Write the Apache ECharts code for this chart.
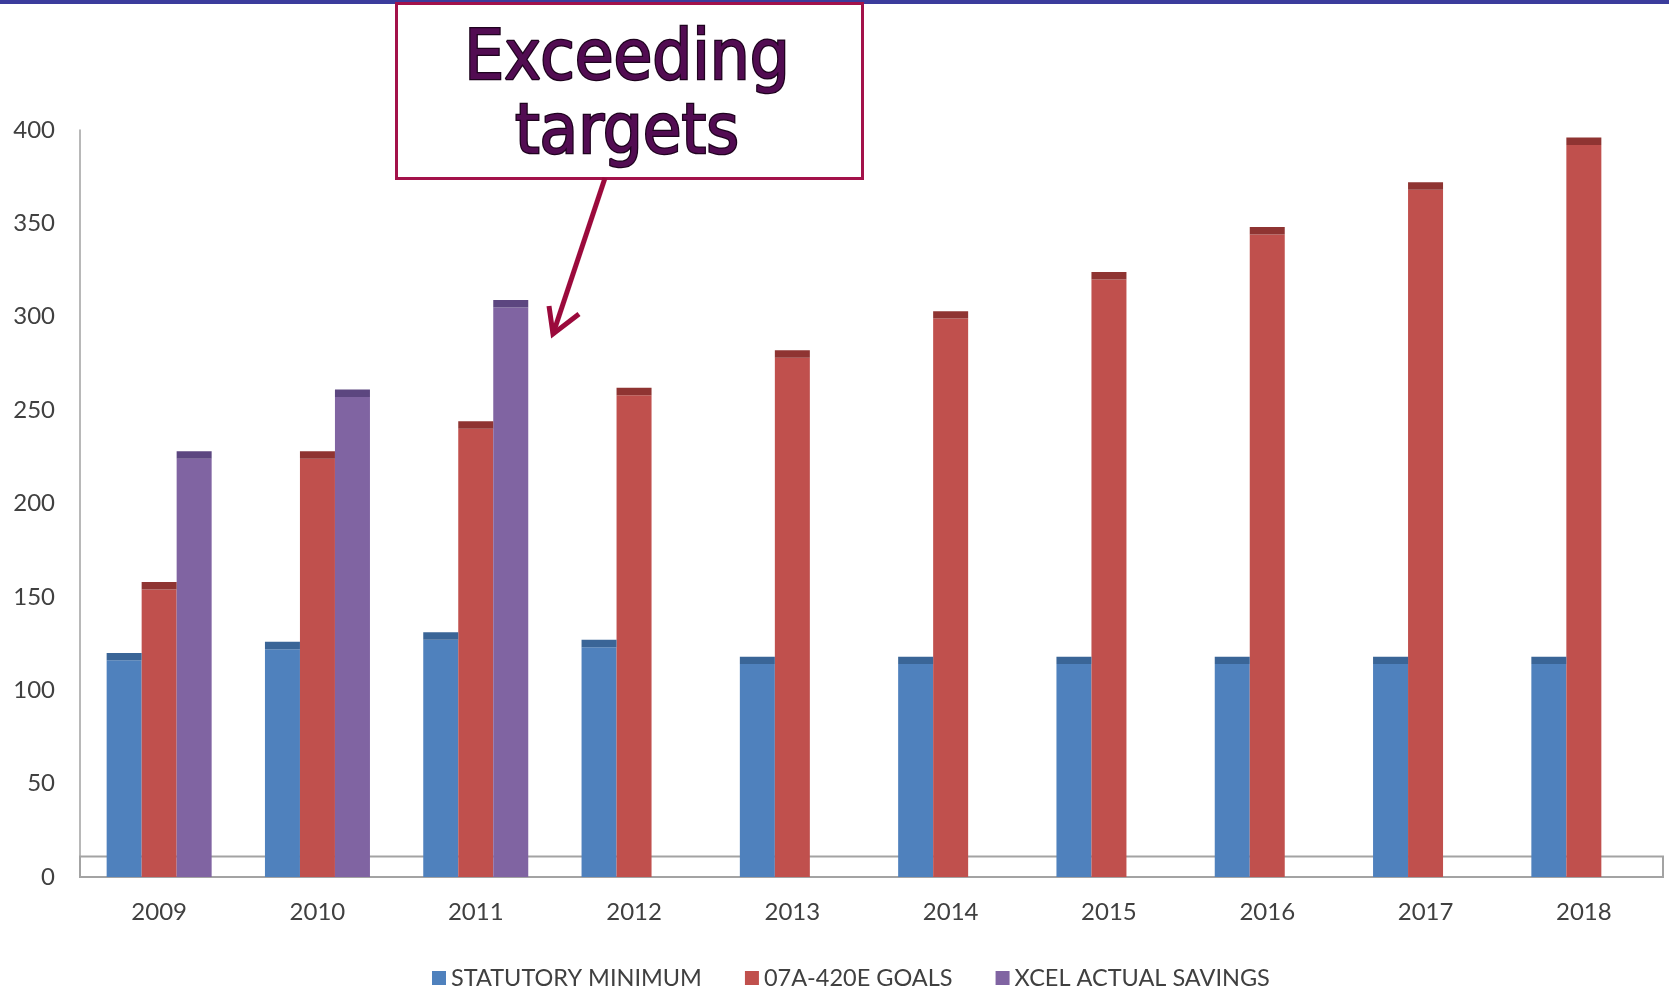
<!DOCTYPE html>
<html>
<head>
<meta charset="utf-8">
<script src="https://cdn.jsdelivr.net/npm/echarts@6/dist/echarts.min.js"></script>
<style>
  html, body { margin: 0; padding: 0; background: #fff; }
  #box { width: 1669px; height: 991px; }
</style>
</head>
<body>
<div id="box"></div>
<script>
// values
const years = ['2009','2010','2011','2012','2013','2014','2015','2016','2017','2018'];
const statutoryMinimum = [120,126,131,127,118,118,118,118,118,118];
const goals = [158,228,244,262,282,303,324,348,372,396];
const actualSavings = [228,261,309,null,null,null,null,null,null,null];
const yTicks = [0,50,100,150,200,250,300,350,400];

// dark top of each pseudo-3d bar, in axis units
const capHeight = 4;

function base(arr){ return arr.map(v => v == null ? null : v - capHeight); }
function cap(arr){ return arr.map(v => v == null ? null : capHeight); }

window.addEventListener('load', function () {
    let box = document.getElementById('box');
    let mychart = echarts.init(box);

    let font = 'Lato';
    let barW = 35;

    function barSeries(name, data, stack, color){
        return {
            name: name, type: 'bar', stack: stack, data: data,
            barWidth: barW, barGap: '0%', z: 2,
            itemStyle: { color: color }
        };
    }

    let options = {
        backgroundColor: '#ffffff',
        animation: false,
        grid: { left: 80, right: 6, top: 130, bottom: 114 },
        legend: {
            top: 961, left: 427,
            data: ['STATUTORY MINIMUM','07A-420E GOALS','XCEL ACTUAL SAVINGS'],
            icon: 'rect', itemWidth: 14, itemHeight: 14, itemGap: 43,
            textStyle: { fontFamily: font, fontSize: 23.5, color: '#404040' }
        },
        xAxis: {
            type: 'category', data: years,
            axisLine: { lineStyle: { color: '#9a9a9a', width: 2 } },
            axisTick: { show: false },
            axisLabel: { fontFamily: font, fontSize: 24, color: '#404040', margin: 23 }
        },
        yAxis: {
            type: 'value', min: 0, max: 400, interval: 50,
            axisLine: { show: true, lineStyle: { color: '#a0a0a0', width: 1.5 } },
            axisTick: { show: false },
            splitLine: { show: false },
            axisLabel: { fontFamily: font, fontSize: 24, color: '#404040', margin: 25,
                formatter: v => yTicks.includes(v) ? String(v) : '' }
        },
        series: [
            // floor of the 3d plot
            { name: 'floor', type: 'line', data: years.map(() => null), z: 1, silent: true,
              showSymbol: false,
              markArea: { silent: true,
                  itemStyle: { color: 'rgba(0,0,0,0)', borderColor: '#a3a3a3', borderWidth: 2 },
                  data: [[{ yAxis: 0 }, { yAxis: 11 }]] } },
            barSeries('STATUTORY MINIMUM', base(statutoryMinimum), 's1', '#4f81bd'),
            barSeries('07A-420E GOALS', base(goals), 's2', '#c0504d'),
            barSeries('XCEL ACTUAL SAVINGS', base(actualSavings), 's3', '#8064a2'),
            barSeries('cap1', cap(statutoryMinimum), 's1', '#3a6597'),
            barSeries('cap2', cap(goals), 's2', '#8f3432'),
            barSeries('cap3', cap(actualSavings), 's3', '#5c4680')
        ],
        graphic: [
            { type: 'rect', left: 0, top: 0, shape: { width: 1669, height: 4 },
              style: { fill: '#3b3c9c' } },
            { type: 'rect', left: 395, top: 2, shape: { width: 466, height: 175 },
              style: { fill: '#ffffff', stroke: '#a3124a', lineWidth: 3 } },
            { type: 'text', x: 627, y: 98, z: 10,
              style: { text: 'Exceeding\ntargets', align: 'center', verticalAlign: 'middle',
                       font: '70px "DejaVu Sans Condensed"', lineHeight: 74,
                       fill: '#520c52', stroke: '#1e031e', lineWidth: 2.5 } },
            { type: 'polyline', z: 10,
              shape: { points: [[605,178],[553,334]] },
              style: { stroke: '#9b0a3c', lineWidth: 5, fill: null } },
            { type: 'polyline', z: 10,
              shape: { points: [[549,306],[553,334],[579,314]] },
              style: { stroke: '#9b0a3c', lineWidth: 5, fill: null, lineJoin: 'miter' } }
        ]
    };

    mychart.setOption(options);
});
</script>
</body>
</html>
